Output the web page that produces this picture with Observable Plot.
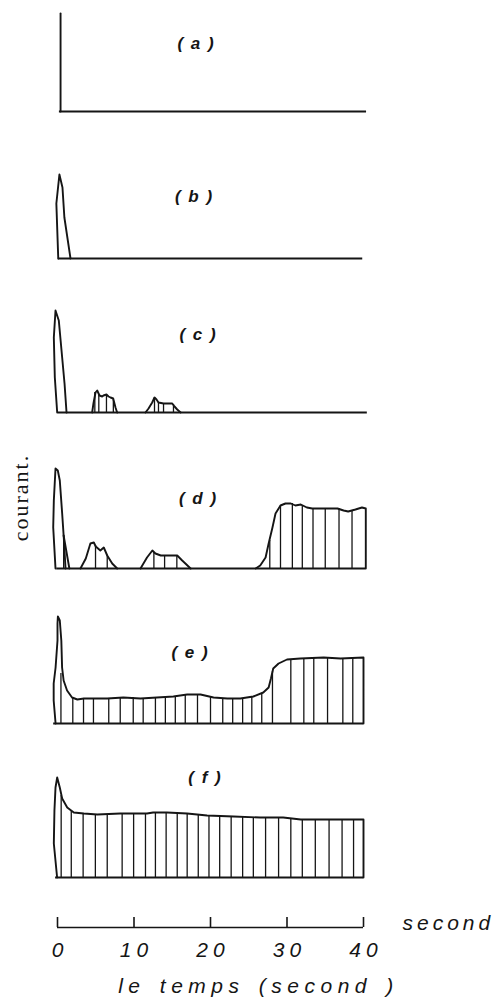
<!DOCTYPE html>
<html>
<head>
<meta charset="utf-8">
<script src="https://cdn.jsdelivr.net/npm/d3@7"></script>
<script src="https://cdn.jsdelivr.net/npm/@observablehq/plot@0.6"></script>
<style>
  html, body { margin: 0; padding: 0; background: #fff; }
  #chart { position: relative; width: 493px; height: 1000px; overflow: hidden; background: #fff; }
  #chart > svg { position: absolute; left: 0; background: transparent; overflow: visible; }
</style>
</head>
<body>
<div id="chart"></div>
<script>
// ---- data: time (s) vs courant (arbitrary units) ----
const panelLabels = ["( a )", "( b )", "( c )", "( d )", "( e )", "( f )"];
const xTicks = [0, 10, 20, 30, 40];
const xTitle = "le temps (second )";
const yTitle = "courant.";
const unitText = "second";

// (a)
const aLine = [[0.4, 98], [0.4, 0]];
// (b)
const bSpike = [[0.1, 0], [-0.15, 55], [0.25, 84], [0.65, 71], [0.9, 41], [1.7, 0]];
// (c)
const cSpike = [[-0.04, 0], [-0.35, 35], [-0.48, 75], [-0.26, 102], [0.17, 92], [0.61, 55], [0.92, 29], [1.18, 0]];
const cBump1 = [[4.53, 0], [4.7, 9], [4.97, 20], [5.19, 22], [5.49, 17], [5.84, 16], [6.01, 17], [6.4, 18], [6.67, 16], [6.93, 15], [7.28, 14], [7.58, 5], [7.8, 0]];
const cBump2 = [[11.5, 0], [11.9, 4], [12.38, 10], [12.68, 15], [12.94, 13], [13.2, 10], [13.86, 9], [14.5, 9], [15.0, 9], [15.3, 6], [15.65, 3], [16.1, 0]];
const cHatch = [[4.88, 20], [5.4, 17], [6.4, 17], [7.3, 14], [12.68, 15], [13.2, 10], [13.86, 9], [15.16, 8]];
// (d)
const dSpike = [[-0.26, 0], [-0.56, 41], [-0.48, 68], [-0.26, 100], [0.04, 98], [0.3, 88], [0.61, 55], [0.82, 31], [1.05, 0]];
const dShoulder = [[0.8, 33], [1.55, 0]];
const dBump1 = [[3.0, 0], [3.7, 10], [4.3, 25], [4.75, 26], [5.0, 22], [5.6, 18], [6.05, 21], [6.5, 13], [7.15, 5], [7.8, 0]];
const dBump2 = [[10.85, 0], [11.7, 11], [12.4, 18], [12.8, 15], [13.5, 13], [14.8, 13], [15.65, 13], [16.3, 8], [17.4, 0]];
const dPlateau = [[25.9, 0], [26.5, 3], [27.2, 11], [27.6, 25], [28.1, 41], [28.5, 55], [29.15, 63], [29.8, 65], [30.5, 65], [31.1, 63], [31.8, 64], [32.6, 61], [33.3, 60], [36.6, 60], [37.4, 58], [38.0, 57], [38.95, 59], [39.8, 61], [40.3, 60], [40.3, 0]];
const dHatch = [[0.8, 33], [4.97, 23], [6.5, 13], [12.6, 16], [14.0, 13], [15.6, 13], [27.75, 28], [29.15, 63], [30.7, 65], [32.0, 63], [33.4, 60], [35.0, 60], [36.8, 60], [38.5, 58]];
// (e)
const eCurve = [[-0.25, 0], [-0.5, 23], [-0.5, 40], [-0.25, 56], [0, 83], [0, 100], [0.05, 107], [0.3, 103], [0.5, 83], [0.6, 56], [0.8, 43], [1.25, 33], [1.9, 26], [2.6, 24], [3.45, 25], [6.5, 25], [8.6, 26], [10.85, 25], [13.0, 26], [15.15, 27], [16.95, 29], [18.7, 29], [20.4, 26], [22.2, 25], [23.9, 25], [25.6, 27], [26.9, 31], [27.6, 36], [27.9, 45], [28.2, 55], [28.9, 60], [30.0, 64], [31.75, 65], [34.8, 66], [37.0, 65], [40.0, 66], [40.0, 0]];
const eHatch = [[0.45, 50], [2.0, 25], [3.4, 25], [4.7, 25], [6.7, 25], [8.2, 26], [9.9, 26], [11.2, 25], [12.8, 26], [14.1, 26], [15.4, 27], [16.7, 29], [18.3, 29], [20.0, 27], [21.6, 25], [22.9, 25], [24.2, 25], [25.4, 26], [26.7, 30], [28.1, 52], [30.5, 64], [32.2, 65], [33.5, 65], [35.3, 66], [37.3, 65], [38.6, 65]];
// (f)
const fCurve = [[-0.05, 0], [-0.48, 34], [-0.4, 67], [-0.26, 90], [-0.04, 100], [0.3, 90], [0.61, 79], [1.27, 70], [2.13, 65], [3.44, 64], [5.2, 63], [8.2, 64], [9.9, 64], [11.7, 64], [12.5, 65], [14.3, 65], [16.95, 64], [19.55, 62], [23.0, 61], [26.5, 60], [29.5, 60], [31.8, 58], [36.1, 58], [40.0, 58], [40.0, 0]];
const fHatch = [[0.48, 82], [1.8, 67], [3.35, 64], [4.95, 62], [6.5, 63], [8.45, 64], [9.95, 64], [11.5, 64], [12.8, 65], [14.2, 65], [15.65, 65], [16.95, 64], [18.4, 63], [19.8, 62], [21.2, 62], [22.7, 61], [24.2, 61], [25.6, 60], [27.2, 60], [28.9, 60], [30.5, 59], [32.0, 58], [33.7, 58], [35.5, 58], [37.2, 58], [38.7, 58]];

// ---- layout ----
const W = 493, ML = 57, MR = 130;
const PH = 110; // plot frame height in px (1 unit = 1 px)
const layout = [
  {base: 111, x1: 0.25, x2: 40.4, lx: 195, ly: 43},
  {base: 258, x1: 0.1,  x2: 39.9, lx: 193, ly: 196},
  {base: 412, x1: 0.1,  x2: 40.5, lx: 197, ly: 334},
  {base: 568, x1: -0.1, x2: 40.3, lx: 197, ly: 498},
  {base: 723, x1: -0.5, x2: 40.0, lx: 189, ly: 652},
  {base: 877, x1: -0.25, x2: 40.0, lx: 204, ly: 777}
];
const segments = [
  [aLine],
  [bSpike],
  [cSpike, cBump1, cBump2],
  [dSpike, dShoulder, dBump1, dBump2, dPlateau],
  [eCurve],
  [fCurve]
];
const hatches = [[], [], cHatch, dHatch, eHatch, fHatch];

const chart = document.getElementById("chart");
const ink = "#151515";

// letter spacing by text content
const spacing = new Map([
  ...panelLabels.map(l => [l, "1.5px"]),
  [yTitle, "2px"],
  [xTitle, "5.5px"],
  [unitText, "4px"],
  ...xTicks.map(t => [String(t), "5px"])
]);
function applySpacing(svg) {
  d3.select(svg).selectAll("text").each(function () {
    const s = spacing.get(this.textContent);
    if (s) this.style.letterSpacing = s;
    if (this.textContent === xTitle) this.style.wordSpacing = "3px";
  });
}

layout.forEach((L, i) => {
  const top = L.base - PH;
  const lines = segments[i].flatMap((seg, s) => seg.map(([x, y]) => ({x, y, s})));
  const marks = [
    Plot.ruleY([0], {x1: L.x1, x2: L.x2, stroke: ink, strokeWidth: 2}),
    Plot.ruleX(hatches[i], {x: d => d[0], y1: 0, y2: d => d[1], stroke: ink, strokeWidth: 1.3}),
    Plot.line(lines, {x: "x", y: "y", z: "s", stroke: ink, strokeWidth: 1.9, curve: "linear", strokeLinejoin: "round"}),
    Plot.text([panelLabels[i]], {
      text: d => d, frameAnchor: "top-left", dx: L.lx - ML + 0.75, dy: L.ly - top,
      textAnchor: "middle", lineAnchor: "middle",
      fontFamily: "Liberation Sans", fontStyle: "italic", fontWeight: "bold", fontSize: 17,
      fill: ink
    })
  ];
  if (i === 3) {
    marks.push(Plot.text([yTitle], {
      text: d => d, frameAnchor: "top-left", dx: 27 - ML, dy: 497 - top,
      rotate: -90, textAnchor: "middle", lineAnchor: "bottom",
      fontFamily: "Liberation Serif", fontSize: 22, fill: ink
    }));
  }
  const svg = Plot.plot({
    width: W, height: PH + 10,
    marginLeft: ML, marginRight: MR, marginTop: 0, marginBottom: 10,
    x: {domain: [0, 40], axis: null},
    y: {domain: [0, PH], axis: null},
    marks
  });
  applySpacing(svg);
  svg.style.top = top + "px";
  chart.appendChild(svg);
});

// ---- time axis ----
const axisBase = 927;
const axisTop = axisBase - 30;
const axisSvg = Plot.plot({
  width: W, height: 100,
  marginLeft: ML, marginRight: MR, marginTop: 0, marginBottom: 70,
  x: {domain: [0, 40], axis: null},
  y: {domain: [0, 10], range: [30, 20], axis: null},
  marks: [
    Plot.ruleY([0], {x1: 0, x2: 40, stroke: ink, strokeWidth: 1.6}),
    Plot.ruleX(xTicks, {x: d => d, y1: 0, y2: 10, stroke: ink, strokeWidth: 1.6}),
    Plot.text(xTicks, {
      x: d => d, y: 0, dy: 23, dx: 2.5, text: d => String(d),
      textAnchor: "middle", lineAnchor: "middle",
      fontFamily: "Liberation Sans", fontStyle: "italic", fontSize: 21, fill: ink
    }),
    Plot.text([xTitle], {
      text: d => d, frameAnchor: "top-left", dx: 255 - ML + 3, dy: 89,
      textAnchor: "middle", lineAnchor: "middle",
      fontFamily: "Liberation Sans", fontStyle: "italic", fontSize: 21, fill: ink
    }),
    Plot.text([unitText], {
      text: d => d, frameAnchor: "top-left", dx: 402 - ML, dy: 26,
      textAnchor: "start", lineAnchor: "middle",
      fontFamily: "Liberation Sans", fontStyle: "italic", fontSize: 21, fill: ink
    })
  ]
});
applySpacing(axisSvg);
axisSvg.style.top = axisTop + "px";
chart.appendChild(axisSvg);
</script>
</body>
</html>
